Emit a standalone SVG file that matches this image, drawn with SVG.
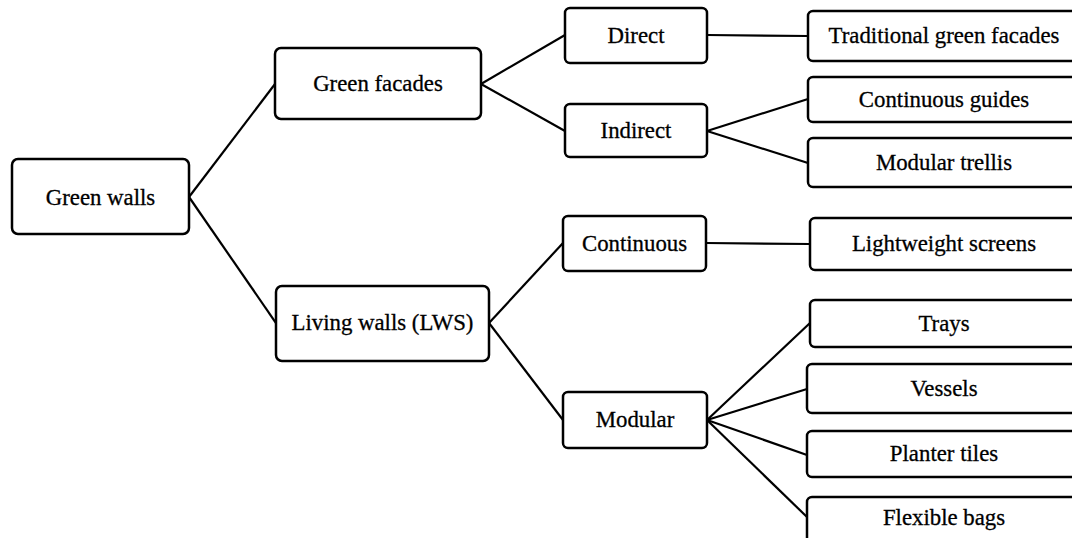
<svg xmlns="http://www.w3.org/2000/svg" width="1072" height="538" viewBox="0 0 1072 538">
<style>
.box{fill:#fff;stroke:#000;stroke-width:2.5}
.lbl{font-family:"Liberation Serif","Times New Roman",serif;font-size:22.8px;fill:#000;stroke:#000;stroke-width:0.3;text-anchor:middle}
.con line{stroke:#000;stroke-width:2.2}
</style>
<rect width="1072" height="538" fill="#fff"/>
<g id="connectors" class="con">
<line x1="189" y1="197" x2="275" y2="84"/>
<line x1="189" y1="197" x2="276" y2="323"/>
<line x1="481" y1="84" x2="565" y2="35"/>
<line x1="481" y1="84" x2="565" y2="131"/>
<line x1="707" y1="35" x2="808" y2="36"/>
<line x1="707" y1="131" x2="808" y2="99"/>
<line x1="707" y1="131" x2="808" y2="163"/>
<line x1="489" y1="323" x2="563" y2="243"/>
<line x1="489" y1="323" x2="563" y2="420"/>
<line x1="706" y1="243" x2="810" y2="244"/>
<line x1="707" y1="420" x2="810" y2="323"/>
<line x1="707" y1="420" x2="807" y2="389"/>
<line x1="707" y1="420" x2="807" y2="455"/>
<line x1="707" y1="420" x2="807" y2="517"/>
</g>
<g id="green-walls"><rect class="box" x="12" y="159" width="177" height="75" rx="6"/><text class="lbl" x="100.5" y="205">Green walls</text></g>
<g id="green-facades"><rect class="box" x="275" y="48" width="206" height="71" rx="6"/><text class="lbl" x="378" y="91">Green facades</text></g>
<g id="living-walls"><rect class="box" x="276" y="286" width="213" height="75" rx="6"/><text class="lbl" x="382.5" y="330">Living walls (LWS)</text></g>
<g id="direct"><rect class="box" x="565" y="8" width="142" height="55" rx="5"/><text class="lbl" x="636" y="42.5">Direct</text></g>
<g id="indirect"><rect class="box" x="565" y="104" width="142" height="53" rx="5"/><text class="lbl" x="636" y="138">Indirect</text></g>
<g id="continuous"><rect class="box" x="563" y="216" width="143" height="55" rx="5"/><text class="lbl" x="634.5" y="250.5">Continuous</text></g>
<g id="modular"><rect class="box" x="563" y="392" width="144" height="56" rx="5"/><text class="lbl" x="635" y="427">Modular</text></g>
<g id="traditional-green-facades"><rect class="box" x="808" y="11" width="274" height="50" rx="5"/><text class="lbl" x="944" y="43">Traditional green facades</text></g>
<g id="continuous-guides"><rect class="box" x="808" y="77" width="274" height="45" rx="5"/><text class="lbl" x="944" y="106.5">Continuous guides</text></g>
<g id="modular-trellis"><rect class="box" x="808" y="138" width="274" height="49" rx="5"/><text class="lbl" x="944" y="170">Modular trellis</text></g>
<g id="lightweight-screens"><rect class="box" x="810" y="218" width="274" height="52" rx="5"/><text class="lbl" x="944" y="251">Lightweight screens</text></g>
<g id="trays"><rect class="box" x="810" y="300" width="274" height="47" rx="5"/><text class="lbl" x="944" y="330.5">Trays</text></g>
<g id="vessels"><rect class="box" x="807" y="364" width="277" height="49" rx="5"/><text class="lbl" x="944" y="395.5">Vessels</text></g>
<g id="planter-tiles"><rect class="box" x="807" y="431" width="277" height="46" rx="5"/><text class="lbl" x="944" y="461">Planter tiles</text></g>
<g id="flexible-bags"><rect class="box" x="807" y="497" width="277" height="50" rx="5"/><text class="lbl" x="944" y="525">Flexible bags</text></g>
</svg>
